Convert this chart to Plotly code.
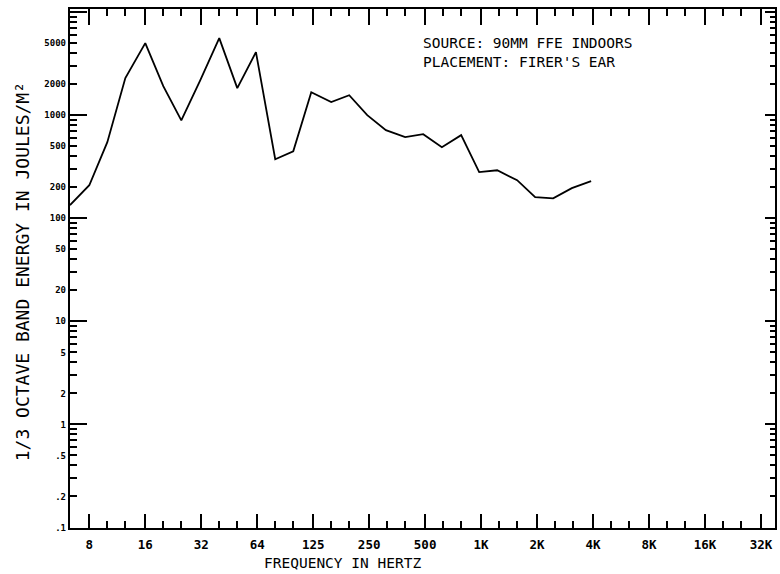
import plotly.graph_objects as go

# 1/3-octave band centre frequencies (Hz) and band energy (J/m^2)
freq = [6.3, 8, 10, 12.5, 16, 20, 25, 31.5, 40, 50, 63, 80, 100, 125, 160, 200,
        250, 315, 400, 500, 630, 800, 1000, 1250, 1600, 2000, 2500, 3150, 4000]
energy = [134, 209, 547, 2290, 5000, 1910, 890, 2150, 5590, 1830, 4090, 374, 447,
          1670, 1340, 1560, 1000, 715, 612, 654, 489, 640, 280, 292, 234, 160, 156,
          196, 229]

# x axis ticks (octaves) and labels
x_major = [8, 16, 32, 64, 128, 256, 512, 1024, 2048, 4096, 8192, 16384, 32768]
x_labels = ["8", "16", "32", "64", "125", "250", "500", "1K", "2K", "4K", "8K", "16K", "32K"]
x_minor = [10, 12.5, 20, 25, 40, 50, 80, 100, 160, 200, 320, 400, 640, 800, 1280, 1600,
           2560, 3200, 5120, 6400, 10240, 12800, 20480, 25600]

# y axis ticks
y_decades = [0.1, 1, 10, 100, 1000, 10000]
y_minor = [m * d for d in [0.1, 1, 10, 100, 1000] for m in [2, 3, 4, 5, 6, 7, 8, 9]]
y_labvals = [0.1, 0.2, 0.5, 1, 2, 5, 10, 20, 50, 100, 200, 500, 1000, 2000, 5000]
y_labels = [".1", ".2", ".5", "1", "2", "5", "10", "20", "50", "100", "200", "500",
            "1000", "2000", "5000"]

XR = [0.7993, 4.591]
YR = [-1.005, 4.03]
MONO = "DejaVu Sans Mono"

fig = go.Figure()
fig.add_trace(go.Scatter(x=freq, y=energy, mode="lines",
                         line=dict(color="black", width=1.8),
                         hoverinfo="skip", showlegend=False))
# helper traces so the overlay axes are drawn
fig.add_trace(go.Scatter(x=freq, y=energy, mode="lines", xaxis="x2", yaxis="y2",
                         line=dict(color="rgba(0,0,0,0)", width=0),
                         hoverinfo="skip", showlegend=False))
fig.add_trace(go.Scatter(x=freq, y=energy, mode="lines", xaxis="x", yaxis="y3",
                         line=dict(color="rgba(0,0,0,0)", width=0),
                         hoverinfo="skip", showlegend=False))

fig.update_layout(
    width=780, height=574,
    margin=dict(l=70, r=3, t=9, b=46),
    paper_bgcolor="white", plot_bgcolor="white",
    xaxis=dict(type="log", range=XR, showgrid=False, zeroline=False,
               showline=True, linecolor="black", linewidth=2, mirror=True,
               tickmode="array", tickvals=x_major, ticktext=x_labels,
               ticks="inside", ticklen=14, tickwidth=1.5, tickcolor="black",
               tickfont=dict(family=MONO, size=12.5, color="black", weight="bold"),
               ticklabelstandoff=4,
               minor=dict(tickmode="array", tickvals=x_minor, ticks="inside",
                          ticklen=7, tickwidth=1.5, tickcolor="black", showgrid=False)),
    xaxis2=dict(type="log", range=XR, overlaying="x", side="top", showgrid=False,
                zeroline=False, showline=False, showticklabels=False,
                tickmode="array", tickvals=x_major,
                ticks="inside", ticklen=16, tickwidth=1.5, tickcolor="black",
                minor=dict(tickmode="array", tickvals=x_minor, ticks="inside",
                           ticklen=7, tickwidth=1.5, tickcolor="black", showgrid=False)),
    yaxis=dict(type="log", range=YR, showgrid=False, zeroline=False,
               showline=True, linecolor="black", linewidth=2, mirror=True,
               tickmode="array", tickvals=y_decades, showticklabels=False,
               ticks="inside", ticklen=17, tickwidth=1.5, tickcolor="black",
               minor=dict(tickmode="array", tickvals=y_minor, ticks="inside",
                          ticklen=7, tickwidth=1.5, tickcolor="black", showgrid=False)),
    yaxis2=dict(type="log", range=YR, overlaying="y", side="left", showgrid=False,
                zeroline=False, showline=False,
                tickmode="array", tickvals=y_labvals, ticktext=y_labels, ticks="",
                tickfont=dict(family=MONO, size=9, color="black", weight="bold"),
                ticklabelstandoff=3),
    yaxis3=dict(type="log", range=YR, overlaying="y", side="right", showgrid=False,
                zeroline=False, showline=False, showticklabels=False,
                tickmode="array", tickvals=y_decades,
                ticks="inside", ticklen=10, tickwidth=1.5, tickcolor="black",
                minor=dict(tickmode="array", tickvals=y_minor, ticks="inside",
                           ticklen=5, tickwidth=1.5, tickcolor="black", showgrid=False)),
    annotations=[
        dict(text="FREQUENCY IN HERTZ", xref="paper", yref="paper", x=0.386, y=-0.0684,
             xanchor="center", yanchor="middle", showarrow=False,
             font=dict(family=MONO, size=14.5, color="black")),
        dict(text="1/3 OCTAVE BAND ENERGY IN JOULES/M²", xref="paper", yref="paper",
             x=-0.0679, y=0.493, xanchor="center", yanchor="middle", textangle=-90,
             showarrow=False, font=dict(family=MONO, size=18, color="black")),
        dict(text="SOURCE: 90MM FFE INDOORS", xref="paper", yref="paper", x=0.498,
             y=0.9345, xanchor="left", yanchor="middle", showarrow=False,
             font=dict(family=MONO, size=14.5, color="black")),
        dict(text="PLACEMENT: FIRER'S EAR", xref="paper", yref="paper", x=0.498,
             y=0.8979, xanchor="left", yanchor="middle", showarrow=False,
             font=dict(family=MONO, size=14.5, color="black")),
    ],
)

fig.write_html("out.html", config={"displayModeBar": False},
               post_script="document.body.style.margin='0';document.body.style.padding='0';")
